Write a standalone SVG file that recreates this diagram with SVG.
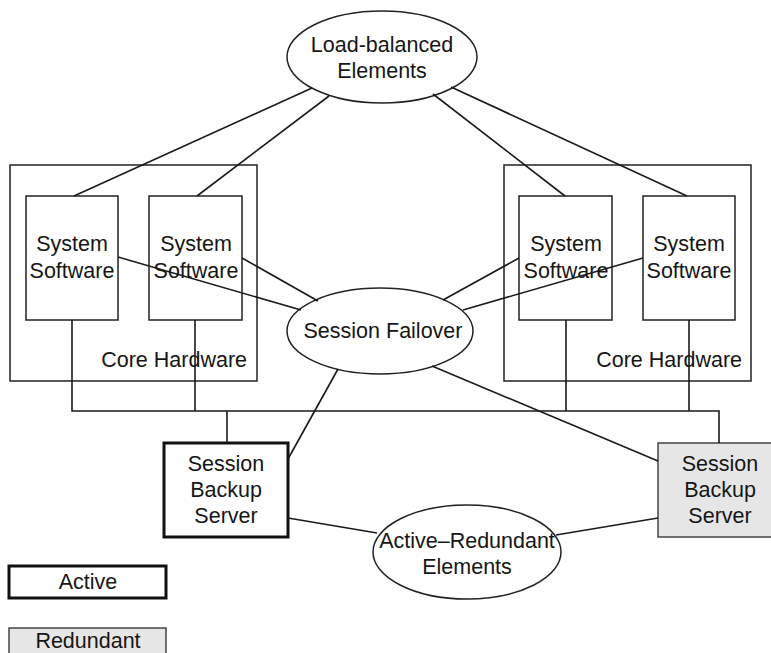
<svg xmlns="http://www.w3.org/2000/svg" width="771" height="653" viewBox="0 0 771 653">
  <style>
    text { font-family: "Liberation Sans", Arial, sans-serif; font-size: 21.5px; fill: #161616; text-anchor: middle; }
    .box { fill: #fff; stroke: #222; stroke-width: 1.5; }
    .frame { fill: none; stroke: #222; stroke-width: 1.5; }
    .active { fill: #fff; stroke: #111; stroke-width: 3; }
    .redundant { fill: #e6e6e6; stroke: #444; stroke-width: 1.5; }
    .oval { fill: #fff; stroke: #222; stroke-width: 1.5; }
    .end { text-anchor: end; }
    #connectors line, #connectors polyline { stroke: #1a1a1a; stroke-width: 1.6; fill: none; }
  </style>

  <rect width="771" height="653" fill="#fff"/>

  <!-- core hardware chassis, left and right -->
  <g id="core-left">
    <rect class="frame" x="10" y="165" width="247" height="216"/>
    <text class="end" x="247" y="367">Core Hardware</text>
  </g>
  <g id="core-right">
    <rect class="frame" x="504" y="165" width="247" height="216"/>
    <text class="end" x="742" y="367">Core Hardware</text>
  </g>

  <!-- system software instances -->
  <g id="sw1">
    <rect class="box" x="26" y="196" width="92" height="124"/>
    <text x="72" y="251">System</text>
    <text x="72" y="278">Software</text>
  </g>
  <g id="sw2">
    <rect class="box" x="149" y="196" width="93" height="124"/>
    <text x="196" y="251">System</text>
    <text x="196" y="278">Software</text>
  </g>
  <g id="sw3">
    <rect class="box" x="519" y="196" width="93" height="124"/>
    <text x="566" y="251">System</text>
    <text x="566" y="278">Software</text>
  </g>
  <g id="sw4">
    <rect class="box" x="643" y="196" width="92" height="124"/>
    <text x="689" y="251">System</text>
    <text x="689" y="278">Software</text>
  </g>

  <!-- element groupings -->
  <g id="load-balanced">
    <ellipse class="oval" cx="382" cy="57" rx="95" ry="46"/>
    <text x="382" y="52">Load-balanced</text>
    <text x="382" y="78">Elements</text>
  </g>
  <g id="session-failover">
    <ellipse class="oval" cx="380" cy="331" rx="93" ry="43"/>
    <text x="383" y="338">Session Failover</text>
  </g>
  <g id="active-redundant">
    <ellipse class="oval" cx="467" cy="552" rx="94" ry="47"/>
    <text x="467" y="548">Active–Redundant</text>
    <text x="467" y="574">Elements</text>
  </g>

  <!-- session backup servers -->
  <g id="backup-active">
    <rect class="active" x="164" y="443" width="124" height="94"/>
    <text x="226" y="471">Session</text>
    <text x="226" y="497">Backup</text>
    <text x="226" y="523">Server</text>
  </g>
  <g id="backup-redundant">
    <rect class="redundant" x="658" y="443" width="124" height="94"/>
    <text x="720" y="471">Session</text>
    <text x="720" y="497">Backup</text>
    <text x="720" y="523">Server</text>
  </g>

  <!-- legend -->
  <g id="legend-active">
    <rect class="active" x="9" y="566" width="157" height="32"/>
    <text x="88" y="589">Active</text>
  </g>
  <g id="legend-redundant">
    <rect class="redundant" x="9" y="628" width="157" height="34"/>
    <text x="88" y="648">Redundant</text>
  </g>

  <g id="connectors">
    <!-- load balancing -->
    <line x1="312" y1="88" x2="74" y2="196"/>
    <line x1="329" y1="96" x2="197" y2="196"/>
    <line x1="433" y1="94" x2="565" y2="196"/>
    <line x1="451" y1="87" x2="687" y2="196"/>
    <!-- session failover -->
    <line x1="118" y1="257" x2="301" y2="310"/>
    <line x1="242" y1="258" x2="318" y2="301"/>
    <line x1="519" y1="258" x2="443" y2="300"/>
    <line x1="643" y1="258" x2="463" y2="310"/>
    <line x1="338" y1="369" x2="288" y2="459"/>
    <line x1="432" y1="366" x2="658" y2="461"/>
    <!-- backup bus -->
    <polyline points="72,320 72,411 719,411 719,443"/>
    <line x1="195" y1="320" x2="195" y2="411"/>
    <line x1="566" y1="320" x2="566" y2="411"/>
    <line x1="689" y1="320" x2="689" y2="411"/>
    <line x1="227" y1="411" x2="227" y2="443"/>
    <!-- active / redundant pairing -->
    <line x1="288" y1="518" x2="377" y2="533"/>
    <line x1="658" y1="518" x2="556" y2="535"/>
  </g>
</svg>
